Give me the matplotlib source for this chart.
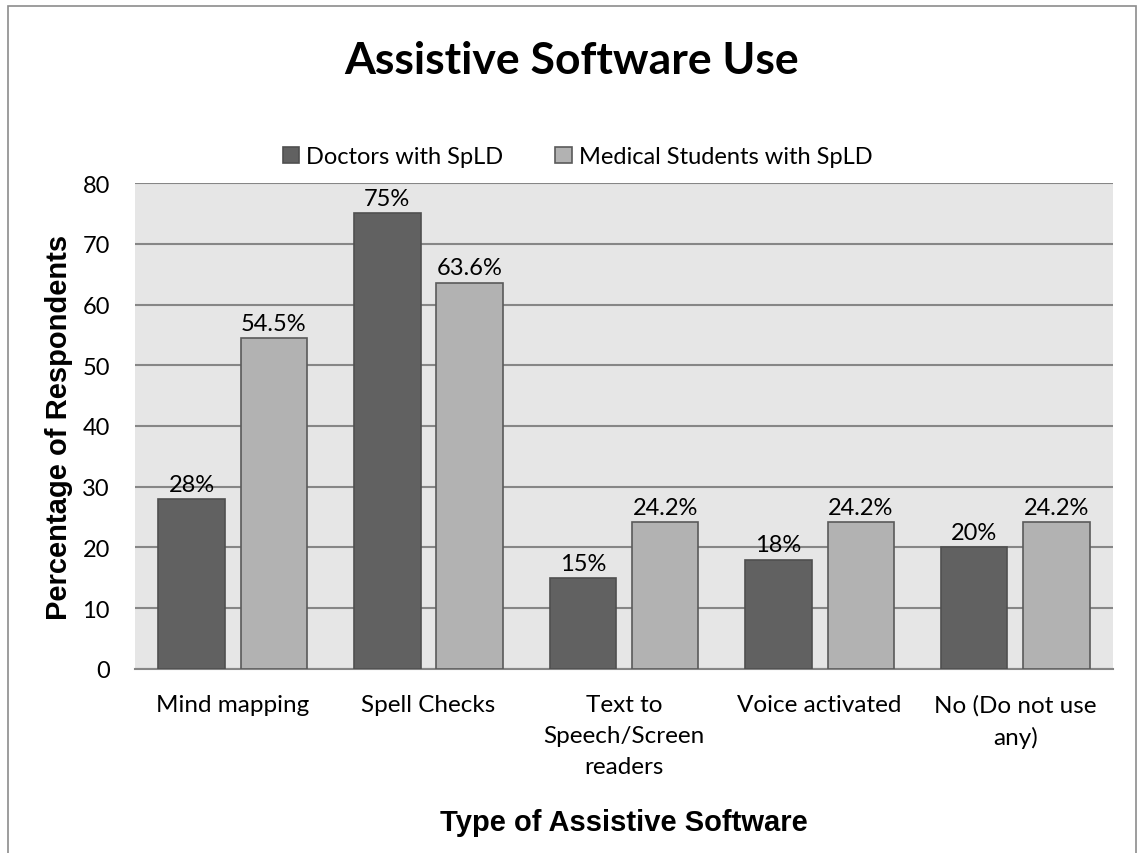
import numpy as np
import matplotlib.pyplot as plt
from matplotlib.patches import Rectangle

categories = ["Mind mapping", "Spell Checks", "Text to\nSpeech/Screen\nreaders",
              "Voice activated", "No (Do not use\nany)"]
doctors = [28, 75, 15, 18, 20]
students = [54.5, 63.6, 24.2, 24.2, 24.2]
doctor_labels = ["28%", "75%", "15%", "18%", "20%"]
student_labels = ["54.5%", "63.6%", "24.2%", "24.2%", "24.2%"]
series_names = ["Doctors with SpLD", "Medical Students with SpLD"]

body_font = "Lato"
axis_font = "Liberation Sans"

fig = plt.figure(figsize=(11.44, 8.54), dpi=100)
ax = fig.add_axes([0.118, 0.2155, 0.855, 0.569])

x = np.arange(len(categories))
w = 0.34
off = 0.21
b1 = ax.bar(x - off, doctors, w, color="#616161", edgecolor="#4f4f4f", linewidth=1.2,
            label=series_names[0], zorder=3)
b2 = ax.bar(x + off, students, w, color="#b2b2b2", edgecolor="#5a5a5a", linewidth=1.2,
            label=series_names[1], zorder=3)

for bars, labs in ((b1, doctor_labels), (b2, student_labels)):
    for rect, lab in zip(bars, labs):
        ax.annotate(lab, (rect.get_x() + rect.get_width() / 2, rect.get_height()),
                    xytext=(0, 3), textcoords="offset points", ha="center", va="bottom",
                    fontsize=17, family=body_font)

ax.set_facecolor("#e6e6e6")
ax.set_xlim(-0.5, len(categories) - 0.5)
ax.set_ylim(0, 80)
ax.set_yticks(range(0, 81, 10))
ax.yaxis.grid(True, color="#868686", linewidth=1.5, zorder=0)
ax.set_axisbelow(True)
for s in ["left", "right", "top"]:
    ax.spines[s].set_visible(False)
ax.spines["bottom"].set_color("#868686")
ax.spines["bottom"].set_linewidth(1.5)
ax.tick_params(length=0, labelsize=17)
ax.tick_params(axis="x", pad=18)
ax.tick_params(axis="y", pad=18)
ax.set_xticks(x)
ax.set_xticklabels(categories, family=body_font, fontsize=17.5, linespacing=1.6)
for t in ax.get_yticklabels():
    t.set_family(body_font)

ax.set_ylabel("Percentage of Respondents", family=axis_font, fontsize=21,
              fontweight="bold", labelpad=7)
ax.set_xlabel("Type of Assistive Software", family=axis_font, fontsize=21,
              fontweight="bold", labelpad=22)

fig.text(0.5, 0.929, "Assistive Software Use", ha="center", va="center",
         family=body_font, fontsize=32, fontweight="bold")
fig.legend(loc="center", bbox_to_anchor=(0.505, 0.815), ncol=2, frameon=False,
           prop={"family": body_font, "size": 17}, handlelength=0.7,
           handleheight=0.7, handletextpad=0.3, columnspacing=2.2)

fig.patches.append(Rectangle((0.007, -0.01), 0.986, 1.002, transform=fig.transFigure,
                             fill=False, edgecolor="#8c8c8c", linewidth=1.2))

fig.savefig("out.png", dpi=100)
